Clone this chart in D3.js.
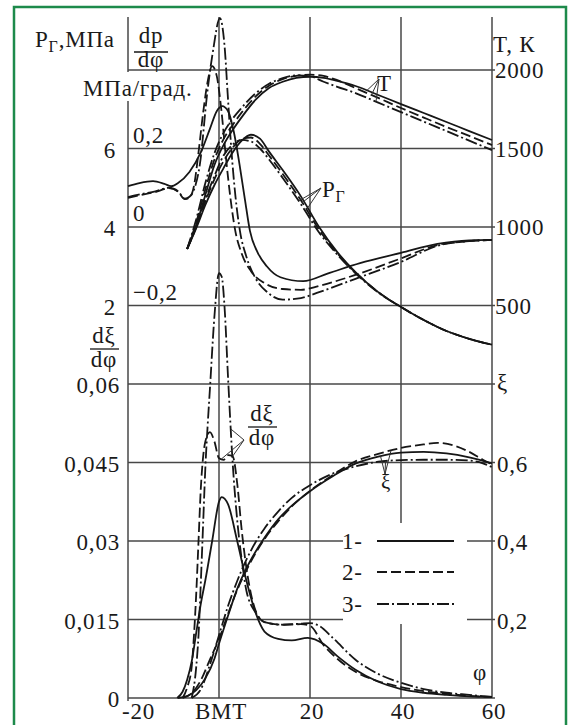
<!DOCTYPE html>
<html>
<head>
<meta charset="utf-8">
<script src="https://cdn.jsdelivr.net/npm/d3@7"></script>
</head>
<body style="margin:0">
<svg id="plot" width="571" height="725" style="font-family:'Liberation Serif',serif"></svg>
<script>
// φ, град. п.к.в. — ось абсцисс
const xTicks = [-20, 0, 20, 40, 60];
const xLabels = ["-20", "ВМТ", "20", "40", "60"];

// подписи осей
const pTicks = [6, 4, 2];
const dpTicks = [0.2, 0, -0.2];
const dpLabels = ["0,2", "0", "−0,2"];
const tTicks = [2000, 1500, 1000, 500];
const dxiTicks = [0.06, 0.045, 0.03, 0.015, 0];
const dxiLabels = ["0,06", "0,045", "0,03", "0,015", "0"];
const xiTicks = [0.6, 0.4, 0.2];
const xiLabels = ["0,6", "0,4", "0,2"];
const legendNames = ["1-", "2-", "3-"];

// T, K
const T_1 = [[-7,860],[-5,1013],[-3,1204],[-1,1395],[1,1522],[3,1618],[5,1700],[8,1809],[11,1885],[14,1925],[17,1950],[20,1957],[23,1950],[26,1930],[30,1898],[35,1841],[40,1783],[45,1726],[50,1669],[55,1611],[60,1554]];
const T_2 = [[-7,860],[-5,1030],[-3,1240],[-1,1430],[1,1560],[3,1650],[5,1730],[8,1830],[11,1900],[14,1942],[17,1963],[20,1970],[23,1962],[26,1935],[30,1885],[35,1822],[40,1758],[45,1697],[50,1637],[55,1580],[60,1522]];
const T_3 = [[-7,860],[-5,1050],[-3,1280],[-1,1470],[1,1600],[3,1690],[5,1760],[8,1850],[11,1912],[14,1948],[17,1966],[20,1960],[23,1925],[26,1893],[30,1853],[35,1792],[40,1732],[45,1671],[50,1611],[55,1550],[60,1490]];

// Pг, МПа
const P_1 = [[-7,3.44],[-5,3.97],[-3,4.56],[-1,5.07],[1,5.5],[3,5.9],[5,6.2],[7,6.35],[9,6.25],[11,5.92],[14,5.45],[18,4.78],[22,4.0],[26,3.36],[30,2.85],[35,2.34],[40,1.96],[45,1.63],[50,1.35],[55,1.15],[60,1.0]];
const P_2 = [[-7,3.44],[-5,4.0],[-3,4.65],[-1,5.22],[1,5.68],[3,6.02],[5,6.24],[7,6.28],[9,6.12],[11,5.82],[14,5.35],[18,4.68],[22,3.93],[26,3.33],[30,2.84],[35,2.34],[40,1.96],[45,1.63],[50,1.35],[55,1.15],[60,1.0]];
const P_3 = [[-7,3.44],[-5,4.02],[-3,4.7],[-1,5.3],[1,5.82],[3,6.1],[5,6.22],[7,6.18],[9,6.0],[11,5.72],[14,5.25],[18,4.58],[22,3.86],[26,3.3],[30,2.82],[35,2.33],[40,1.96],[45,1.63],[50,1.35],[55,1.15],[60,1.0]];

// dp/dφ, МПа/град.
const DP_1 = [[-20,0.104],[-17.5,0.112],[-14.5,0.117],[-12,0.11],[-10.5,0.104],[-9,0.112],[-6.5,0.14],[-4,0.19],[-2,0.25],[-0.5,0.295],[0.7,0.308],[2,0.295],[3.3,0.24],[4.5,0.16],[5.7,0.07],[6.8,-0.01],[8.5,-0.065],[10.5,-0.1],[13.5,-0.128],[18.5,-0.138],[24,-0.118],[31,-0.092],[40,-0.066],[48,-0.043],[55,-0.034],[60,-0.033]];
const DP_2 = [[-20,0.074],[-17,0.082],[-14,0.089],[-11,0.099],[-9,0.09],[-7.5,0.071],[-6.5,0.075],[-5.5,0.105],[-4.5,0.19],[-3.5,0.29],[-2.5,0.37],[-1.5,0.41],[-0.5,0.385],[0.5,0.3],[1.5,0.18],[2.5,0.075],[3.5,-0.005],[5,-0.068],[7,-0.112],[10,-0.143],[14,-0.158],[18,-0.16],[22,-0.15],[30,-0.122],[40,-0.08],[48,-0.046],[55,-0.036],[60,-0.033]];
const DP_3 = [[-20,0.076],[-17,0.084],[-14,0.091],[-11,0.1],[-9,0.091],[-7.5,0.072],[-6.5,0.077],[-5.5,0.095],[-4.2,0.16],[-2.6,0.34],[-1.3,0.45],[0.2,0.532],[1.3,0.45],[1.9,0.34],[2.7,0.2],[3.6,0.08],[4.6,-0.01],[6,-0.075],[8,-0.13],[10.5,-0.165],[14,-0.185],[18,-0.181],[22,-0.166],[30,-0.132],[40,-0.089],[48,-0.048],[55,-0.036],[60,-0.033]];

// dξ/dφ
const DXI_1 = [[-9.2,0],[-8,0.0012],[-7,0.0035],[-6,0.007],[-5,0.0125],[-4,0.018],[-3,0.0225],[-1.5,0.03],[0,0.0375],[0.6,0.0384],[2,0.037],[4,0.03],[6,0.0225],[8,0.0164],[10,0.0127],[13,0.0113],[16,0.011],[19.5,0.0115],[23,0.0103],[26,0.008],[30,0.0054],[35,0.0031],[40,0.0017],[45,0.001],[50,0.0006],[55,0.0003],[60,0.0002]];
const DXI_2 = [[-8,0],[-7,0.002],[-6,0.006],[-5.5,0.012],[-5,0.02],[-4.5,0.03],[-4,0.04],[-3.5,0.046],[-3,0.049],[-2,0.0508],[-1,0.049],[0,0.0458],[1,0.0455],[2,0.0464],[3,0.0462],[4,0.041],[5,0.032],[6,0.025],[7,0.02],[8,0.0168],[10,0.0145],[14,0.014],[18,0.0141],[20,0.0138],[23,0.0101],[26,0.0075],[30,0.005],[35,0.0032],[40,0.0021],[45,0.0013],[50,0.0008],[55,0.0004],[60,0.0002]];
const DXI_3 = [[-6,0],[-5,0.006],[-4.5,0.012],[-4,0.022],[-3.5,0.033],[-3,0.044],[-2.5,0.052],[-2,0.059],[-1,0.073],[0,0.0812],[0.6,0.0805],[1.2,0.075],[2,0.061],[3,0.045],[4,0.034],[5,0.0264],[6,0.0206],[8,0.0164],[10,0.0145],[14,0.014],[18,0.0142],[20,0.0143],[22,0.0138],[25,0.0115],[30,0.0073],[35,0.0046],[40,0.0029],[45,0.0017],[50,0.001],[55,0.0006],[60,0.0002]];

// ξ
const XI_1 = [[-9,0],[-7,0.005],[-5,0.02],[-3,0.05],[-1,0.1],[0,0.138],[2,0.21],[4,0.278],[6,0.33],[8,0.372],[10,0.408],[13,0.455],[16,0.49],[20,0.527],[25,0.565],[30,0.597],[35,0.615],[40,0.625],[45,0.627],[50,0.623],[55,0.613],[60,0.598]];
const XI_2 = [[-8,0],[-6,0.012],[-4,0.045],[-2,0.098],[0,0.15],[2,0.215],[4,0.275],[6,0.325],[8,0.368],[10,0.405],[13,0.45],[16,0.488],[20,0.528],[25,0.568],[30,0.603],[35,0.622],[40,0.637],[45,0.646],[48,0.65],[52,0.642],[55,0.627],[58,0.607],[60,0.595]];
const XI_3 = [[-6,0],[-4,0.022],[-2,0.085],[0,0.16],[2,0.235],[4,0.298],[6,0.352],[8,0.396],[10,0.432],[13,0.475],[16,0.51],[20,0.542],[25,0.572],[30,0.59],[35,0.602],[40,0.606],[45,0.607],[50,0.607],[55,0.605],[58,0.598],[60,0.588]];

// ---- разметка ----
const X0 = 128, X1 = 492, TOP = 17, Y_TOP = 70, Y_MID = 384, Y_BOT = 698;
const FS = 23;
const INK = "#161616", GRID = "#474747";
const DASH = [null, "10,4", "12,3,2,3"];

const x = d3.scaleLinear().domain([-20, 60]).range([X0, X1]);
const yP = d3.scaleLinear().domain([0, 8]).range([Y_MID, Y_TOP]);
const yT = d3.scaleLinear().domain([0, 2000]).range([Y_MID, Y_TOP]);
const yDp = d3.scaleLinear().domain([0, 0.4]).range([yP(4), Y_TOP]);
const yDxi = d3.scaleLinear().domain([0, 0.06]).range([Y_BOT, Y_MID]);
const yXi = d3.scaleLinear().domain([0, 0.8]).range([Y_BOT, Y_MID]);

const svg = d3.select("#plot");

// фон и рамка
svg.append("rect").attr("width", 571).attr("height", 725).attr("fill", "#fff");
svg.append("rect").attr("x", 14).attr("y", 7).attr("width", 552).attr("height", 722)
  .attr("fill", "none").attr("stroke", "#1d8a4b").attr("stroke-width", 2.5);

const gGrid = svg.append("g").attr("stroke", GRID).attr("stroke-width", 1.5);
const hLevels = [8, 6, 4, 2, 0].map(yP).concat([0.045, 0.03, 0.015, 0].map(yDxi));
hLevels.forEach((y) => {
  gGrid.append("line").attr("x1", X0).attr("x2", X1 + 3).attr("y1", y).attr("y2", y);
});
xTicks.forEach((t) => {
  gGrid.append("line").attr("x1", x(t)).attr("x2", x(t)).attr("y1", TOP)
    .attr("y2", Y_BOT + (t === -20 ? 3 : 0));
});

// белые подложки
svg.append("rect").attr("x", 81).attr("y", 72).attr("width", 118).attr("height", 29).attr("fill", "#fff");
svg.append("rect").attr("x", 343).attr("y", 523).attr("width", 124).attr("height", 101).attr("fill", "#fff");

const gText = svg.append("g").attr("font-family", "Liberation Serif").attr("fill", "#1a1a1a");

function label(txt, px, py, anchor, size) {
  return gText.append("text")
    .attr("x", px).attr("y", py)
    .attr("style", "font-family:'Liberation Serif',serif;font-size:" + (size || FS) + "px;letter-spacing:0.8px")
    .attr("text-anchor", anchor || "start")
    .text(txt);
}

// ось слева, верх
pTicks.forEach((t) => label(String(t), 116, yP(t) + 9, "end"));
dpTicks.forEach((t, i) => label(dpLabels[i], 133, yDp(t) - 6));
const pTitle = label("P", 35, 47);
pTitle.append("tspan").attr("style", "font-size:16px").attr("dy", 5).text("Г");
pTitle.append("tspan").attr("dy", -5).text(",МПа");
label("dp", 151, 43, "middle");
svg.append("line").attr("x1", 134).attr("x2", 168).attr("y1", 52).attr("y2", 52)
  .attr("stroke", INK).attr("stroke-width", 1.3);
label("dφ", 151, 67, "middle");
label("МПа/град.", 83, 96);

// ось слева, низ
dxiTicks.forEach((t, i) => label(dxiLabels[i], 120, yDxi(t) + 9, "end"));
label("dξ", 104, 343, "middle");
svg.append("line").attr("x1", 90).attr("x2", 119).attr("y1", 349).attr("y2", 349)
  .attr("stroke", INK).attr("stroke-width", 1.3);
label("dφ", 104, 367, "middle");

// ось справа
label("T, К", 493, 52);
tTicks.forEach((t) => label(String(t), 495, yT(t) + 8));
label("ξ", 497, Y_MID + 6);
xiTicks.forEach((t, i) => label(xiLabels[i], 497, yXi(t) + 9));

// ось φ
xTicks.forEach((t, i) => {
  if (t === -20) label(xLabels[i], x(t) - 6, 719);
  else label(xLabels[i], x(t) + 2, 719, "middle");
});
label("φ", 473, 680);

// кривые
const line = (ys) => d3.line().x((d) => x(d[0])).y((d) => ys(d[1])).curve(d3.curveMonotoneX);
const groups = [
  { ys: yP, s: [P_1, P_2, P_3] },
  { ys: yT, s: [T_1, T_2, T_3] },
  { ys: yDp, s: [DP_1, DP_2, DP_3] },
  { ys: yDxi, s: [DXI_1, DXI_2, DXI_3] },
  { ys: yXi, s: [XI_1, XI_2, XI_3] }
];
const gCurves = svg.append("g").attr("fill", "none").attr("stroke", INK).attr("stroke-width", 1.8);
groups.forEach((grp) => {
  grp.s.forEach((data, i) => {
    gCurves.append("path").attr("d", line(grp.ys)(data))
      .attr("stroke-dasharray", DASH[i]);
  });
});

// выноски
function at(series, phi) {
  for (let i = 0; i < series.length - 1; i++) {
    const a = series[i], b = series[i + 1];
    if (phi >= a[0] && phi <= b[0]) return a[1] + (b[1] - a[1]) * (phi - a[0]) / (b[0] - a[0]);
  }
  return series[series.length - 1][1];
}
const gLead = svg.append("g").attr("stroke", "#333").attr("stroke-width", 1);
function leaders(px, py, targets, ys) {
  targets.forEach(([s, phi]) => {
    gLead.append("line").attr("x1", px).attr("y1", py)
      .attr("x2", x(phi)).attr("y2", ys(at(s, phi)));
  });
}

label("T", 377, 91);
leaders(379, 79, [[T_1, 32.5], [T_2, 33.5], [T_3, 34.5]], yT);

const pIn = label("P", 322, 197);
pIn.append("tspan").attr("style", "font-size:16px").attr("dy", 5).text("Г");
leaders(321, 188, [[P_1, 19.5], [P_2, 18.3], [P_3, 17.5]], yP);

label("dξ", 262, 421, "middle");
svg.append("line").attr("x1", 248).attr("x2", 277).attr("y1", 427).attr("y2", 427)
  .attr("stroke", INK).attr("stroke-width", 1.3);
label("dφ", 262, 445, "middle");
leaders(244, 440, [[DXI_3, 2.6], [DXI_2, 3.0], [DXI_2, 0.5]], yDxi);

label("ξ", 381, 489, "start", 21);
leaders(385, 474, [[XI_1, 35.5], [XI_3, 36.6], [XI_2, 37.8]], yXi);

// легенда
const legendY = [541, 572, 604];
legendNames.forEach((name, i) => {
  label(name, 342, legendY[i] + 8);
  svg.append("line").attr("x1", 377).attr("x2", 454).attr("y1", legendY[i]).attr("y2", legendY[i])
    .attr("stroke", INK).attr("stroke-width", 1.8).attr("stroke-dasharray", DASH[i]);
});
</script>
</body>
</html>
